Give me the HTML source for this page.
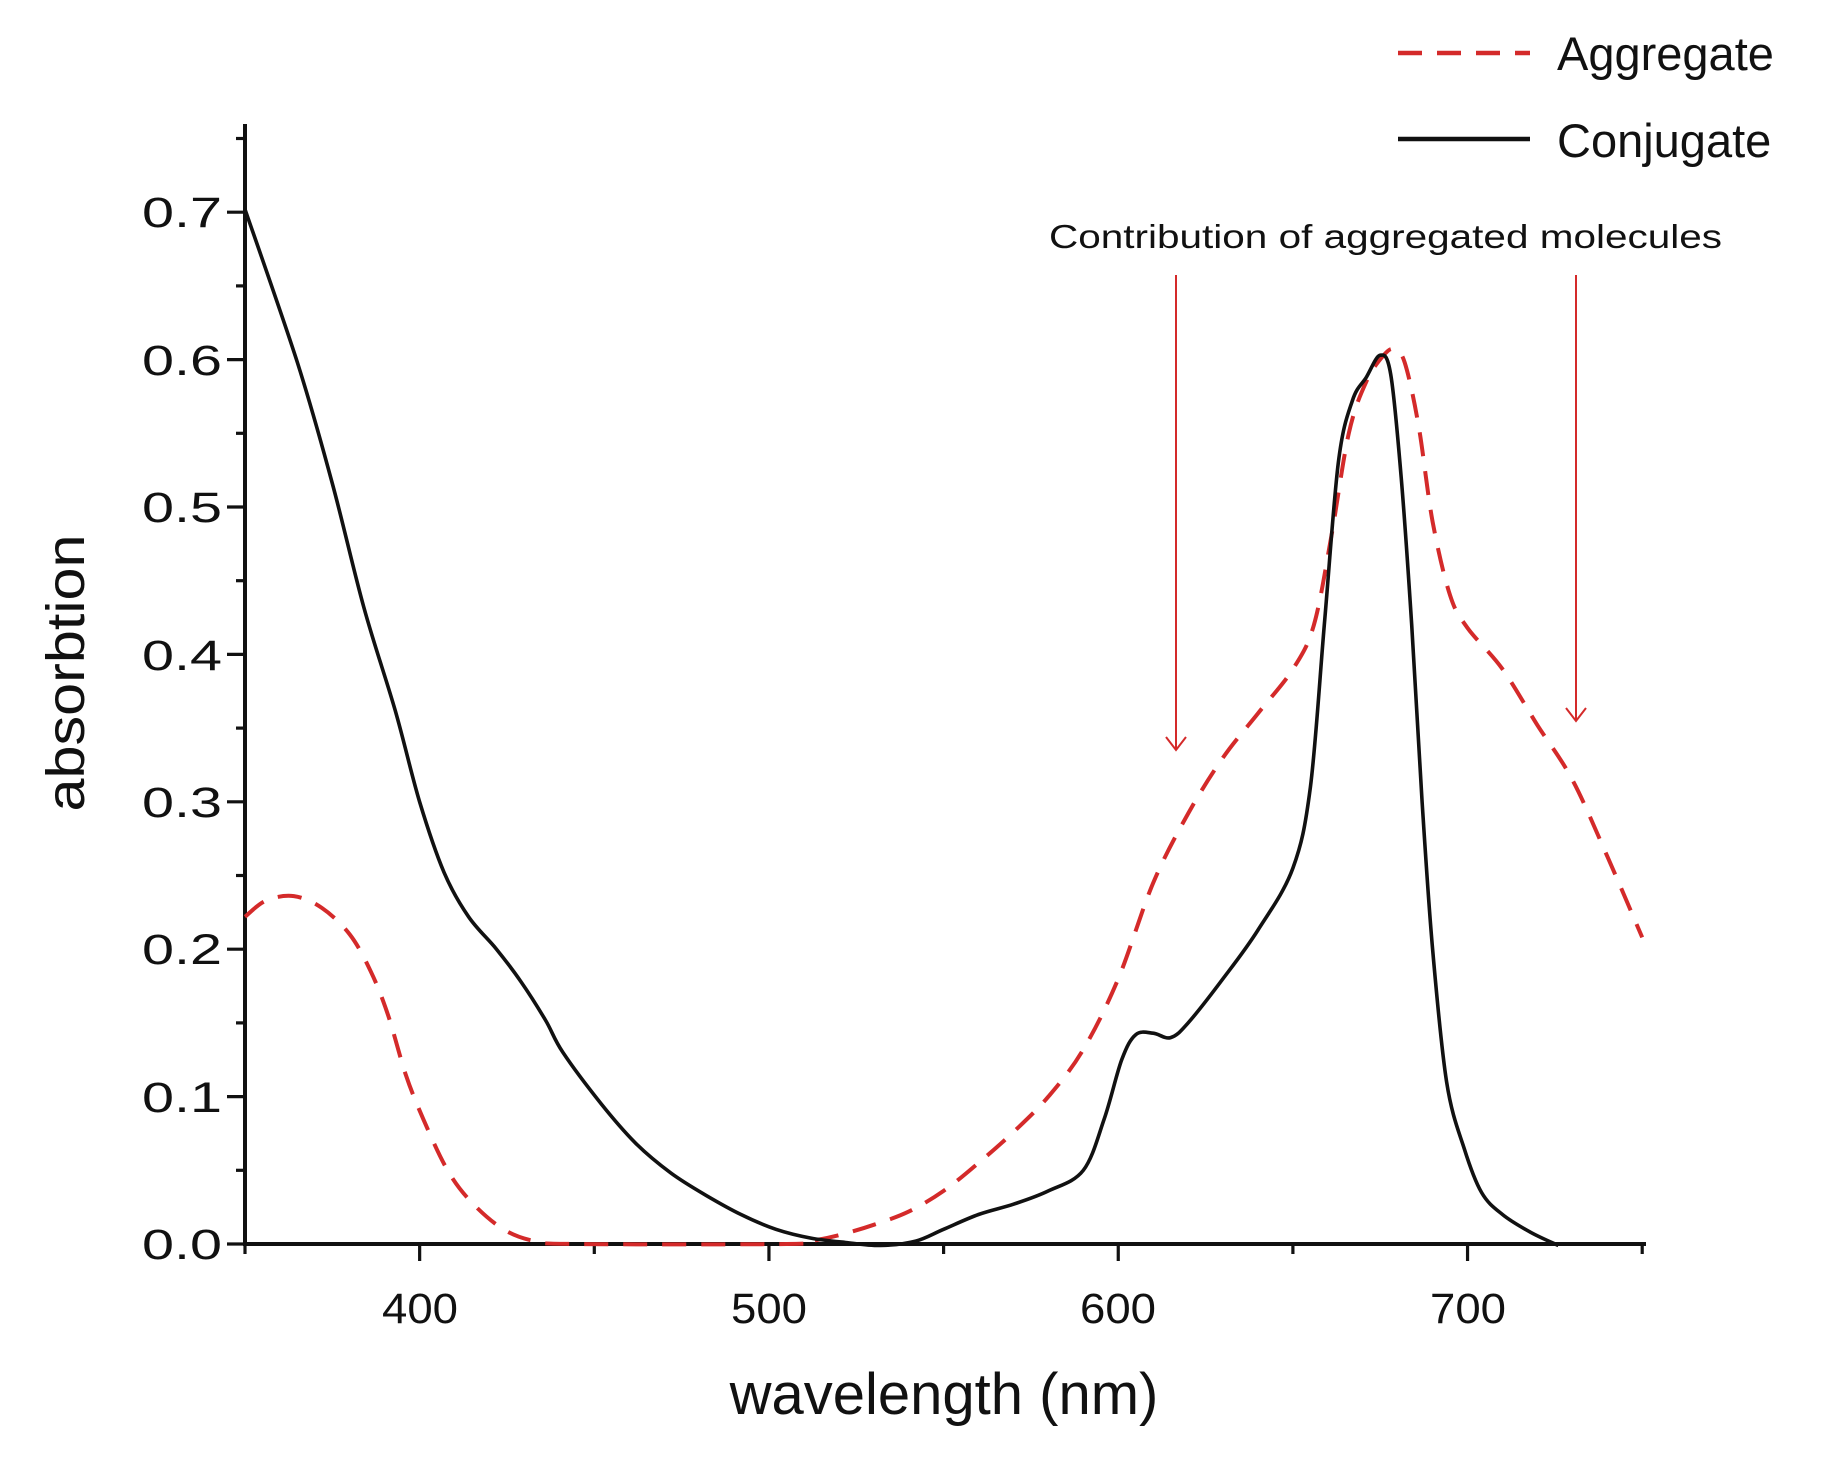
<!DOCTYPE html>
<html><head><meta charset="utf-8"><style>
html,body{margin:0;padding:0;background:#fff;}
svg{display:block;}
text{font-family:"Liberation Sans",sans-serif;fill:#111;}
</style></head><body>
<svg id="s" width="1843" height="1469" viewBox="0 0 1843 1469" xmlns="http://www.w3.org/2000/svg">
<g id="axes" stroke="#111" stroke-width="4" fill="none">
<line x1="245" y1="124" x2="245" y2="1246"/>
<line x1="243" y1="1244" x2="1646" y2="1244"/>
</g>
<g id="ticks" stroke="#111" stroke-width="3.2" fill="none"></g>
<g font-size="43" text-anchor="end">
<text x="222" y="1259" textLength="80" lengthAdjust="spacingAndGlyphs">0.0</text>
<text x="222" y="1112" textLength="80" lengthAdjust="spacingAndGlyphs">0.1</text>
<text x="222" y="964" textLength="80" lengthAdjust="spacingAndGlyphs">0.2</text>
<text x="222" y="817" textLength="80" lengthAdjust="spacingAndGlyphs">0.3</text>
<text x="222" y="670" textLength="80" lengthAdjust="spacingAndGlyphs">0.4</text>
<text x="222" y="522" textLength="80" lengthAdjust="spacingAndGlyphs">0.5</text>
<text x="222" y="375" textLength="80" lengthAdjust="spacingAndGlyphs">0.6</text>
<text x="222" y="227" textLength="80" lengthAdjust="spacingAndGlyphs">0.7</text>
</g>
<g font-size="43">
<text x="382" y="1323" textLength="76" lengthAdjust="spacingAndGlyphs">400</text>
<text x="731" y="1323" textLength="76" lengthAdjust="spacingAndGlyphs">500</text>
<text x="1080" y="1323" textLength="76" lengthAdjust="spacingAndGlyphs">600</text>
<text x="1430" y="1323" textLength="76" lengthAdjust="spacingAndGlyphs">700</text>
</g>
<text x="944" y="1414" font-size="58" text-anchor="middle">wavelength (nm)</text>
<text transform="translate(84,673) rotate(-90)" font-size="54" text-anchor="middle" textLength="277" lengthAdjust="spacingAndGlyphs">absorbtion</text>
<line x1="1398" y1="53" x2="1530" y2="53" stroke="#d42a2a" stroke-width="4.5" stroke-dasharray="24,15"/>
<line x1="1398" y1="139" x2="1530" y2="139" stroke="#111" stroke-width="4.5"/>
<text x="1557" y="70" font-size="47">Aggregate</text>
<text x="1557" y="157" font-size="47">Conjugate</text>
<text x="1049" y="248" font-size="33" textLength="673" lengthAdjust="spacingAndGlyphs">Contribution of aggregated molecules</text>
<g stroke="#d42a2a" stroke-width="2" fill="none">
<line x1="1176" y1="275" x2="1176" y2="749"/>
<polyline points="1166,737 1176,750 1186,737"/>
<line x1="1576" y1="275" x2="1576" y2="720"/>
<polyline points="1566,708 1576,721 1586,708"/>
</g>
<path id="agg" fill="none" stroke="#d42a2a" stroke-width="4" stroke-dasharray="24,15"/>
<path id="con" fill="none" stroke="#111" stroke-width="3.6"/>
</svg>
<script>
function X(w){return 245+(w-350)*3.493;}
function Y(a){return 1244-a*1474;}
var t=document.getElementById('ticks'),h='';
for(var i=0;i<=15;i++){var y=Y(i*0.05);var L=(i%2==0)?18:9;h+='<line x1="'+(245-L)+'" y1="'+y+'" x2="245" y2="'+y+'"/>';}
for(var w=350;w<=750;w+=50){var x=X(w);var L=(w%100==0)?17:10;h+='<line x1="'+x+'" y1="1244" x2="'+x+'" y2="'+(1244+L)+'"/>';}
t.innerHTML=h;
function path(p){var pts=p.map(function(q){return [X(q[0]),Y(q[1])];});var d='M'+pts[0][0].toFixed(1)+','+pts[0][1].toFixed(1);
for(var i=0;i<pts.length-1;i++){var p0=pts[i-1]||pts[i],p1=pts[i],p2=pts[i+1],p3=pts[i+2]||p2;
var c1=[p1[0]+(p2[0]-p0[0])/6,p1[1]+(p2[1]-p0[1])/6],c2=[p2[0]-(p3[0]-p1[0])/6,p2[1]-(p3[1]-p1[1])/6];
d+='C'+c1[0].toFixed(1)+','+c1[1].toFixed(1)+' '+c2[0].toFixed(1)+','+c2[1].toFixed(1)+' '+p2[0].toFixed(1)+','+p2[1].toFixed(1);}return d;}
var con=[[350,0.702],[365,0.598],[375,0.516],[384,0.432],[393,0.362],[400,0.300],[407,0.252],[414,0.222],[422,0.2],[429,0.178],[436,0.152],[441,0.130],[452,0.095],[462,0.068],[472,0.048],[482,0.033],[492,0.02],[502,0.01],[512,0.004],[522,0.001],[532,-0.001],[542,0.002],[550,0.01],[560,0.02],[570,0.027],[580,0.036],[590,0.05],[596,0.085],[601,0.125],[605,0.142],[610,0.143],[615,0.14],[620,0.15],[630,0.18],[640,0.213],[650,0.255],[655,0.31],[659,0.42],[663,0.53],[667,0.572],[671,0.588],[675,0.603],[678,0.59],[681,0.52],[684,0.42],[687,0.3],[690,0.2],[694,0.11],[699,0.065],[704,0.035],[710,0.02],[718,0.008],[726,-0.001]];
var agg=[[350,0.222],[356,0.233],[364,0.236],[372,0.228],[380,0.21],[386,0.185],[391,0.155],[396,0.115],[401,0.085],[408,0.05],[415,0.028],[424,0.01],[433,0.002],[445,0],[505,0],[512,0.002],[520,0.006],[530,0.013],[540,0.022],[550,0.036],[560,0.055],[570,0.076],[580,0.1],[590,0.132],[600,0.18],[610,0.245],[620,0.292],[630,0.33],[640,0.36],[650,0.39],[656,0.42],[661,0.48],[666,0.55],[671,0.585],[676,0.603],[679,0.607],[682,0.598],[686,0.555],[690,0.49],[695,0.44],[700,0.418],[710,0.39],[720,0.352],[730,0.315],[740,0.263],[750,0.208]];
document.getElementById('con').setAttribute('d',path(con));
document.getElementById('agg').setAttribute('d',path(agg));
</script>
</body></html>
